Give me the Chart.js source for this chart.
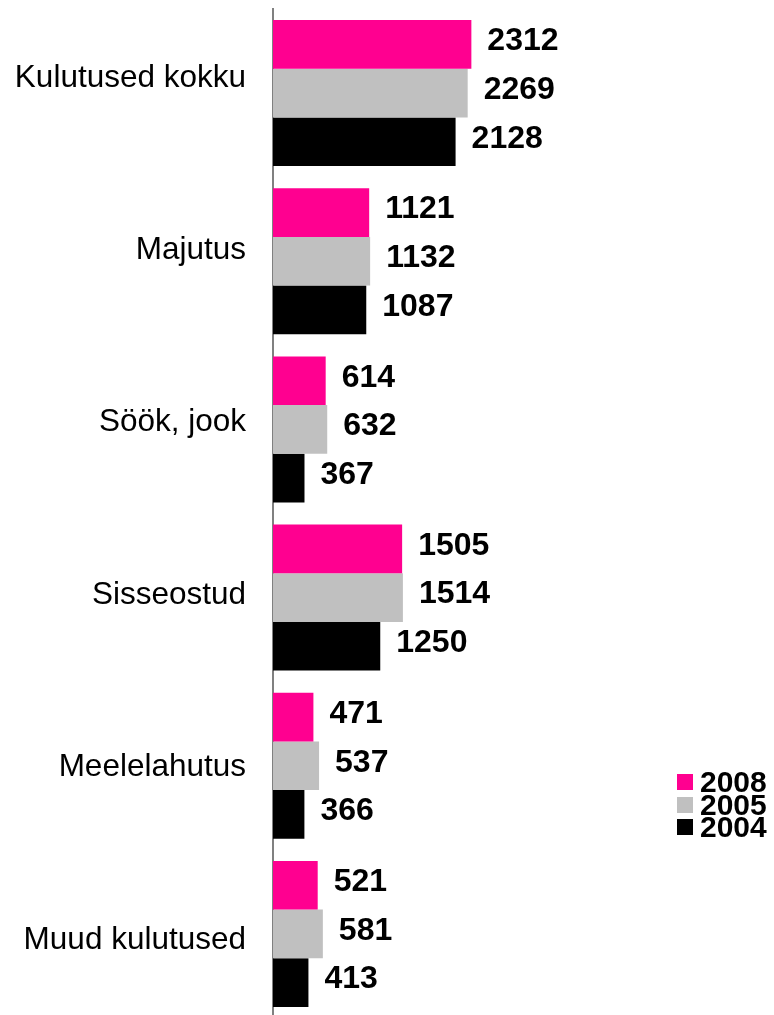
<!DOCTYPE html>
<html>
<head>
<meta charset="utf-8">
<script src="https://cdn.jsdelivr.net/npm/chart.js@4"></script>
<style>
  html, body { margin: 0; padding: 0; background: #fff; overflow: hidden; }
  #wrap { position: absolute; left: 0; top: 0; width: 774px; height: 1018px; }
  #legend {
    position: absolute; left: 677px; top: 771px;
    font-family: 'Liberation Sans', Arial, sans-serif; font-weight: bold; font-size: 30px; color: #000;
  }
  #legend .item { display: flex; align-items: center; height: 22.5px; }
  #legend .box { width: 16px; height: 16px; margin-right: 7px; }
</style>
</head>
<body>
<div id="wrap"><canvas id="chart"></canvas></div>
<div id="legend"></div>
<script>
'use strict';

// ── Data ──────────────────────────────────────────────────────────────────────

const categories = ['Kulutused kokku', 'Majutus', 'Söök, jook', 'Sisseostud', 'Meelelahutus', 'Muud kulutused'];
const years      = ['2008', '2005', '2004'];
const values2008 = [2312, 1121, 614, 1505, 471, 521];
const values2005 = [2269, 1132, 632, 1514, 537, 581];
const values2004 = [2128, 1087, 367, 1250, 366, 413];
const colors     = ['#ff0090', '#c0c0c0', '#000000'];

const FONT = "'Liberation Sans', Arial, sans-serif";

// ── Value labels ──────────────────────────────────────────────────────────────

const valueLabels = {
  id: 'valueLabels',
  afterDatasetsDraw(chart) {
    const ctx = chart.ctx;
    ctx.save();
    ctx.font = `bold 32px ${FONT}`;
    ctx.fillStyle = '#000';
    ctx.textAlign = 'left';
    ctx.textBaseline = 'middle';
    chart.data.datasets.forEach((ds, i) => {
      chart.getDatasetMeta(i).data.forEach((bar, j) => {
        ctx.fillText(String(ds.data[j]), bar.x + 16, bar.y - 3);
      });
    });
    ctx.restore();
  },
};

// ── Chart ─────────────────────────────────────────────────────────────────────

const series = [values2008, values2005, values2004];

new Chart(document.getElementById('chart'), {
  type: 'bar',
  data: {
    labels: categories,
    datasets: series.map((vals, i) => ({
      label: years[i],
      data: vals,
      backgroundColor: colors[i],
      borderWidth: 0,
      categoryPercentage: 0.868,
      barPercentage: 1,
    })),
  },
  options: {
    indexAxis: 'y',
    responsive: true, maintainAspectRatio: false,
    animation: false,
    layout: { padding: { top: 9, right: 72, left: 0, bottom: 0 } },
    plugins: { legend: { display: false }, tooltip: { enabled: false } },
    scales: {
      x: { display: false, min: 0, max: 5000 },
      y: { display: false },
      // label axis: category names sit on their own even spacing
      yl: {
        type: 'linear', position: 'left', reverse: true, offset: false,
        min: -0.4, max: 5.453, bounds: 'data',
        grid: { display: false, drawTicks: false },
        border: { display: true, color: '#808080', width: 2 },
        ticks: {
          autoSkip: false, padding: 27, color: '#000',
          font: { family: FONT, size: 31.5 },
          callback: v => categories[v] ?? '',
        },
        afterBuildTicks: s => { s.ticks = categories.map((c, i) => ({ value: i })); },
        afterFit: s => { s.width = 273; s.paddingTop = 0; s.paddingBottom = 0; },
      },
    },
  },
  plugins: [valueLabels],
});

// ── Legend ────────────────────────────────────────────────────────────────────

const legend = document.getElementById('legend');
years.forEach((y, i) => {
  const item = document.createElement('div');
  item.className = 'item';
  item.innerHTML = `<span class="box" style="background:${colors[i]}"></span><span>${y}</span>`;
  legend.appendChild(item);
});
</script>
</body>
</html>
